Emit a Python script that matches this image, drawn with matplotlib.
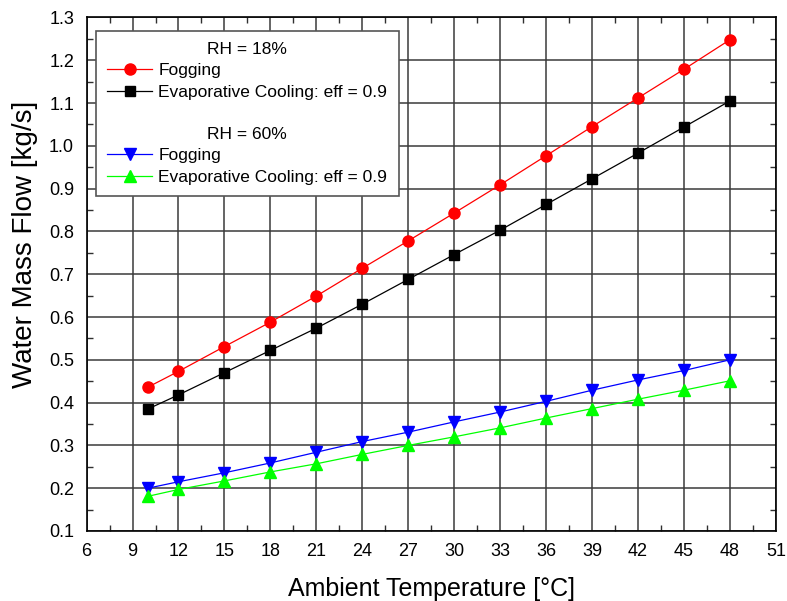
import matplotlib
matplotlib.use("Agg")
import matplotlib.pyplot as plt
from matplotlib.lines import Line2D
from matplotlib.ticker import MultipleLocator

plt.rcParams['font.family'] = ['Liberation Sans', 'DejaVu Sans']

# ambient temperature [C]
temps = [10, 12, 15, 18, 21, 24, 27, 30, 33, 36, 39, 42, 45, 48]

# water mass flow [kg/s], RH = 18%
fog_18 = [0.436, 0.473, 0.531, 0.588, 0.649, 0.714, 0.778, 0.843,
          0.909, 0.977, 1.045, 1.112, 1.179, 1.248]
evap_18 = [0.385, 0.418, 0.470, 0.522, 0.574, 0.630, 0.688, 0.746,
           0.803, 0.863, 0.923, 0.983, 1.044, 1.105]

# water mass flow [kg/s], RH = 60%
fog_60 = [0.200, 0.215, 0.236, 0.259, 0.284, 0.309, 0.331, 0.355,
          0.378, 0.403, 0.429, 0.453, 0.475, 0.500]
evap_60 = [0.181, 0.197, 0.217, 0.238, 0.257, 0.279, 0.300, 0.320,
           0.341, 0.364, 0.386, 0.408, 0.429, 0.451]

header_18 = 'RH = 18%'
header_60 = 'RH = 60%'
label_fog = 'Fogging'
label_evap = 'Evaporative Cooling: eff = 0.9'

fig = plt.figure(figsize=(7.87, 6.01), dpi=100)
ax = fig.add_axes([0.110, 0.1165, 0.876, 0.8545])

ax.plot(temps, fog_18, color='#ff0000', lw=0.9, marker='o', ms=8, mec='#ff0000', zorder=4)
ax.plot(temps, evap_18, color='black', lw=0.9, marker='s', ms=7, zorder=4)
ax.plot(temps, fog_60, color='#0000ff', lw=0.9, marker='v', ms=8.5, zorder=4)
ax.plot(temps, evap_60, color='#00ff00', lw=0.9, marker='^', ms=8.5, zorder=4)

ax.set_xlim(6, 51)
ax.set_ylim(0.1, 1.3)
ax.xaxis.set_major_locator(MultipleLocator(3))
ax.xaxis.set_minor_locator(MultipleLocator(1.5))
ax.yaxis.set_major_locator(MultipleLocator(0.1))
ax.yaxis.set_minor_locator(MultipleLocator(0.05))
ax.yaxis.set_major_formatter(matplotlib.ticker.FormatStrFormatter('%.1f'))

ax.grid(True, which='major', color='#3a3a3a', lw=1.1)
ax.set_axisbelow(True)
ax.tick_params(which='both', direction='in', top=True, right=True,
               color='#303030', labelsize=13)
ax.tick_params(which='major', length=0, pad=9)
ax.tick_params(which='minor', length=4, width=1)
for sp in ax.spines.values():
    sp.set_linewidth(1.2)

ax.set_xlabel('Ambient Temperature [°C]', fontsize=18, labelpad=12)
ax.set_ylabel('Water Mass Flow [kg/s]', fontsize=20)
ax.yaxis.set_label_coords(-0.071, 0.558)

blank = Line2D([], [], color='none')
handles = [
    blank,
    Line2D([], [], color='#ff0000', lw=0.9, marker='o', ms=8),
    Line2D([], [], color='black', lw=0.9, marker='s', ms=7),
    blank,
    blank,
    Line2D([], [], color='#0000ff', lw=0.9, marker='v', ms=8.5),
    Line2D([], [], color='#00ff00', lw=0.9, marker='^', ms=8.5),
]
labels = [' ', label_fog, label_evap, ' ', ' ', label_fog, label_evap]
leg = ax.legend(handles, labels, loc='upper left', bbox_to_anchor=(0.0135, 0.974),
                fontsize=12.5, handlelength=2.6, handletextpad=0.35,
                labelspacing=0.35, borderpad=0.65, borderaxespad=0,
                fancybox=False, framealpha=1, edgecolor='#555555')
leg.get_frame().set_linewidth(1.2)

# centre the group headers across the legend box
fig.canvas.draw()
frame = leg.get_frame().get_window_extent()
texts = leg.get_texts()


def mid_y(t):
    bb = t.get_window_extent()
    return (bb.y0 + bb.y1) / 2


for idx, header in [(0, header_18), (4, header_60)]:
    step = mid_y(texts[idx + 1]) - mid_y(texts[idx + 2])
    fig.text((frame.x0 + frame.x1) / 2 / fig.bbox.width,
             (mid_y(texts[idx + 1]) + step) / fig.bbox.height,
             header, ha='center', va='center', fontsize=12.5, zorder=10)

fig.savefig('out.png', dpi=100)
